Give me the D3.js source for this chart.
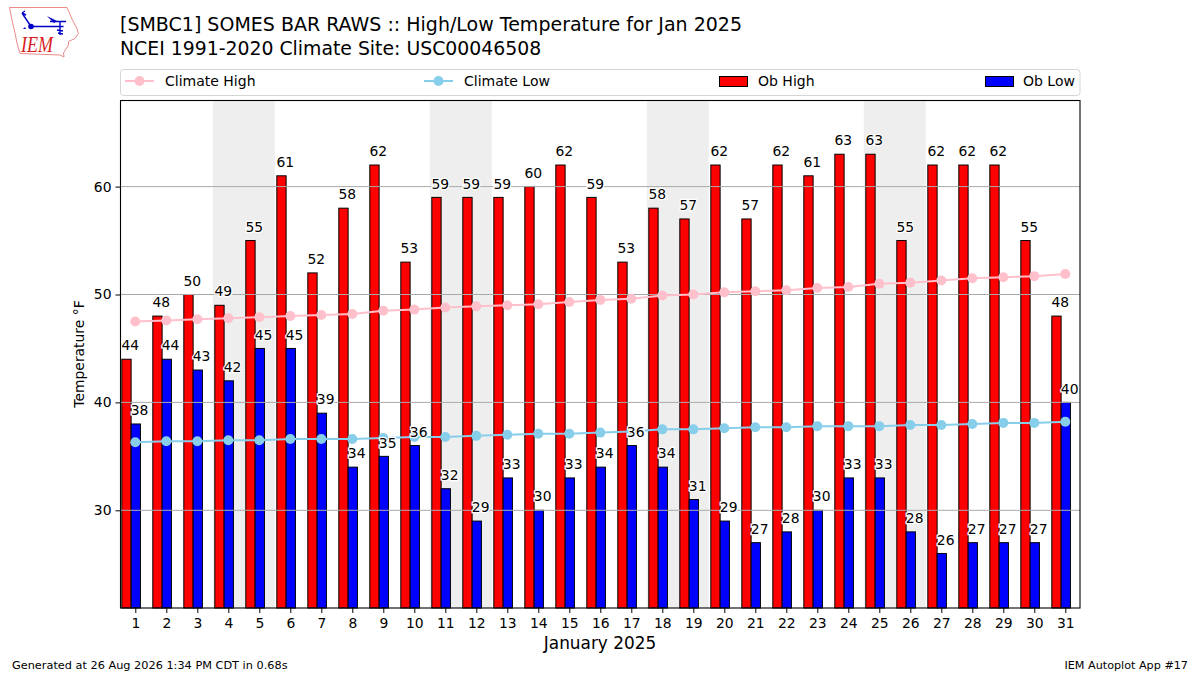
<!DOCTYPE html>
<html>
<head>
<meta charset="utf-8">
<script src="https://cdn.jsdelivr.net/npm/d3@7"></script>
<style>
    html, body { margin: 0; padding: 0; background: #fff; }
    svg { display: block; }
    text { font-family: "DejaVu Sans", sans-serif; fill: #000; }
</style>
</head>
<body>
<div id="js_chart"></div>
<script>
const days = [1, 2, 3, 4, 5, 6, 7, 8, 9, 10, 11, 12, 13, 14, 15, 16, 17, 18, 19, 20, 21, 22, 23, 24, 25, 26, 27, 28, 29, 30, 31];
const obHigh = [44, 48, 50, 49, 55, 61, 52, 58, 62, 53, 59, 59, 59, 60, 62, 59, 53, 58, 57, 62, 57, 62, 61, 63, 63, 55, 62, 62, 62, 55, 48];
const obLow = [38, 44, 43, 42, 45, 45, 39, 34, 35, 36, 32, 29, 33, 30, 33, 34, 36, 34, 31, 29, 27, 28, 30, 33, 33, 28, 26, 27, 27, 27, 40];
const climateHigh = [47.5, 47.6, 47.7, 47.8, 47.9, 48.0, 48.1, 48.2, 48.5, 48.6, 48.8, 48.9, 49.0, 49.1, 49.3, 49.5, 49.6, 49.9, 50.0, 50.2, 50.3, 50.4, 50.6, 50.7, 51.0, 51.1, 51.3, 51.5, 51.6, 51.7, 51.9];
const climateLow = [36.3, 36.4, 36.4, 36.5, 36.5, 36.6, 36.6, 36.6, 36.7, 36.8, 36.8, 36.9, 37.0, 37.1, 37.1, 37.2, 37.3, 37.5, 37.5, 37.6, 37.7, 37.7, 37.8, 37.8, 37.8, 37.9, 37.9, 38.0, 38.1, 38.1, 38.2];
const weekends = [[4, 5], [11, 12], [18, 19], [25, 26]];
const yTicks = [30, 40, 50, 60];
const titleLines = ["[SMBC1] SOMES BAR RAWS :: High/Low Temperature for Jan 2025", "NCEI 1991-2020 Climate Site: USC00046508"];
const legendNames = ["Climate High", "Climate Low", "Ob High", "Ob Low"];

const width = 1200, height = 675;
const plot = {left: 120.5, right: 1080, top: 100.5, bottom: 608};
const barWidth = 0.3;

let x = d3.scaleLinear().domain([0.5226, 31.474]).range([plot.left, plot.right]);
let y = d3.scaleLinear().domain([20.945, 67.98]).range([plot.bottom, plot.top]);

let svg = d3.select("#js_chart").append("svg")
    .attr("width", width)
    .attr("height", height);

svg.append("rect").attr("width", width).attr("height", height).attr("fill", "#fff");

// Logo
let logo = svg.append("g");
logo.append("path")
    .attr("d", "M9.5,7.5 L67,7.5 L69,12 L72,19 L77,29 L78.5,33.5 L75,38.5 L68.5,41.5 L68.5,45 L63.5,53 L64,57 L60,55 L20,53.5 L17,43 L15,33 L12,20 Z")
    .attr("fill", "none").attr("stroke", "#ec8a8a").attr("stroke-width", 1);
logo.append("path")
    .attr("d", "M31,26.5 L63.5,26.5 M31,26.5 L22,13 M22,13 L26,15 M22,13 L25,11 M50,21.5 L66,21.5 M60,21.5 L60,35 M57,30 L63,31 M58,33 L63,34")
    .attr("fill", "none").attr("stroke", "#0000c8").attr("stroke-width", 1.4);
logo.append("path").attr("d", "M47,16 L57,21 L54,23 Z").attr("fill", "#0000c8");
logo.append("circle").attr("cx", 31).attr("cy", 26.5).attr("r", 2.8).attr("fill", "#0000c8");
logo.append("path").attr("d", "M23,29 L25,27 L26,29 Z").attr("fill", "#0000c8");
logo.append("text").text("IEM")
    .attr("x", 21).attr("y", 51.5)
    .attr("textLength", 32).attr("lengthAdjust", "spacingAndGlyphs")
    .style("font-family", "'Liberation Serif', serif").style("font-style", "italic")
    .style("font-size", "23px").style("fill", "#d81e1e");

// Title
svg.append("g").selectAll("text").data(titleLines).enter().append("text")
    .attr("x", 120)
    .attr("y", function(d, i) { return 31 + i * 24; })
    .style("font-size", function(d, i) { return i === 0 ? "19px" : "18.85px"; })
    .text(function(d) { return d; });

// Weekend shading
svg.append("g").selectAll("rect").data(weekends).enter().append("rect")
    .attr("x", function(d) { return x(d[0] - 0.5); })
    .attr("width", function(d) { return x(d[1] + 0.5) - x(d[0] - 0.5); })
    .attr("y", plot.top)
    .attr("height", plot.bottom - plot.top)
    .attr("fill", "#eeeeee");

// Bars
svg.append("g").selectAll("rect").data(days).enter().append("rect")
    .attr("x", function(d) { return x(d - 0.435); })
    .attr("width", x(barWidth) - x(0))
    .attr("y", function(d, i) { return y(obHigh[i]); })
    .attr("height", function(d, i) { return plot.bottom - y(obHigh[i]); })
    .attr("fill", "#ff0000").attr("stroke", "#000").attr("stroke-width", 1);

svg.append("g").selectAll("rect").data(days).enter().append("rect")
    .attr("x", function(d) { return x(d - 0.135); })
    .attr("width", x(barWidth) - x(0))
    .attr("y", function(d, i) { return y(obLow[i]); })
    .attr("height", function(d, i) { return plot.bottom - y(obLow[i]); })
    .attr("fill", "#0000ff").attr("stroke", "#000").attr("stroke-width", 1);

// Grid
svg.append("g").selectAll("line").data(yTicks).enter().append("line")
    .attr("x1", plot.left).attr("x2", plot.right)
    .attr("y1", function(d) { return y(d); })
    .attr("y2", function(d) { return y(d); })
    .attr("stroke", "#a9a9a9").attr("stroke-width", 1);

// Climate lines
function drawClimate(values, color) {
    let line = d3.line()
        .x(function(d, i) { return x(days[i]); })
        .y(function(d) { return y(d); });
    let g = svg.append("g");
    g.append("path").attr("d", line(values))
        .attr("fill", "none").attr("stroke", color).attr("stroke-width", 2);
    g.selectAll("circle").data(values).enter().append("circle")
        .attr("cx", function(d, i) { return x(days[i]); })
        .attr("cy", function(d) { return y(d); })
        .attr("r", 5)
        .attr("fill", color);
}
drawClimate(climateHigh, "#ffc0cb");
drawClimate(climateLow, "#87ceeb");

// Value labels
function drawLabels(values, offset) {
    svg.append("g").selectAll("text").data(values).enter().append("text")
        .attr("x", function(d, i) { return x(days[i] + offset); })
        .attr("y", function(d) { return y(d) - 8.8; })
        .attr("text-anchor", "middle")
        .attr("stroke", "#fff").attr("stroke-width", 2.5)
        .attr("paint-order", "stroke")
        .style("font-size", "13.9px")
        .text(function(d) { return d; });
}
drawLabels(obHigh, -0.16);
drawLabels(obLow, 0.14);

// Axes
let xAxis = svg.append("g")
    .attr("transform", "translate(0," + plot.bottom + ")")
    .call(d3.axisBottom(x).tickValues(days).tickFormat(d3.format("d")).tickSize(5).tickPadding(5));
let yAxis = svg.append("g")
    .attr("transform", "translate(" + plot.left + ",0)")
    .call(d3.axisLeft(y).tickValues(yTicks).tickSize(5).tickPadding(4));
xAxis.selectAll("text").style("font-size", "13.9px").style("font-family", "'DejaVu Sans'");
yAxis.selectAll("text").style("font-size", "13.9px").style("font-family", "'DejaVu Sans'");
xAxis.select(".domain").remove();
yAxis.select(".domain").remove();

svg.append("rect")
    .attr("x", plot.left).attr("y", plot.top)
    .attr("width", plot.right - plot.left).attr("height", plot.bottom - plot.top)
    .attr("fill", "none").attr("stroke", "#000").attr("stroke-width", 1.1);

svg.append("text").text("January 2025")
    .attr("x", 600).attr("y", 649).attr("text-anchor", "middle")
    .style("font-size", "16.9px");

svg.append("text").text("Temperature °F")
    .attr("transform", "translate(84,354) rotate(-90)")
    .attr("text-anchor", "middle")
    .style("font-size", "13.9px");

// Legend
svg.append("rect")
    .attr("x", 120.5).attr("y", 69.5).attr("width", 959.5).attr("height", 26).attr("rx", 3)
    .attr("fill", "#fff").attr("stroke", "#d5d5d5").attr("stroke-width", 1);

let legendX = [125, 424, 719, 985];
let legendTextX = [40, 40, 39, 38];
let legendColors = ["#ffc0cb", "#87ceeb", "#ff0000", "#0000ff"];
legendNames.forEach(function(name, i) {
    let g = svg.append("g").attr("transform", "translate(" + legendX[i] + ",0)");
    if (i < 2) {
        g.append("line").attr("x1", 0).attr("x2", 29).attr("y1", 81).attr("y2", 81)
            .attr("stroke", legendColors[i]).attr("stroke-width", 2);
        g.append("circle").attr("cx", 14.5).attr("cy", 81).attr("r", 5).attr("fill", legendColors[i]);
    } else {
        g.append("rect").attr("x", 0.5).attr("y", 76.5).attr("width", 28).attr("height", 10)
            .attr("fill", legendColors[i]).attr("stroke", "#000").attr("stroke-width", 1);
    }
    g.append("text").text(name).attr("x", legendTextX[i]).attr("y", 86).style("font-size", "14px");
});

// Footer
svg.append("text").text("Generated at 26 Aug 2026 1:34 PM CDT in 0.68s")
    .attr("x", 12).attr("y", 669).style("font-size", "11.3px");
svg.append("text").text("IEM Autoplot App #17")
    .attr("x", 1188).attr("y", 669).attr("text-anchor", "end").style("font-size", "11.2px");
</script>
</body>
</html>
